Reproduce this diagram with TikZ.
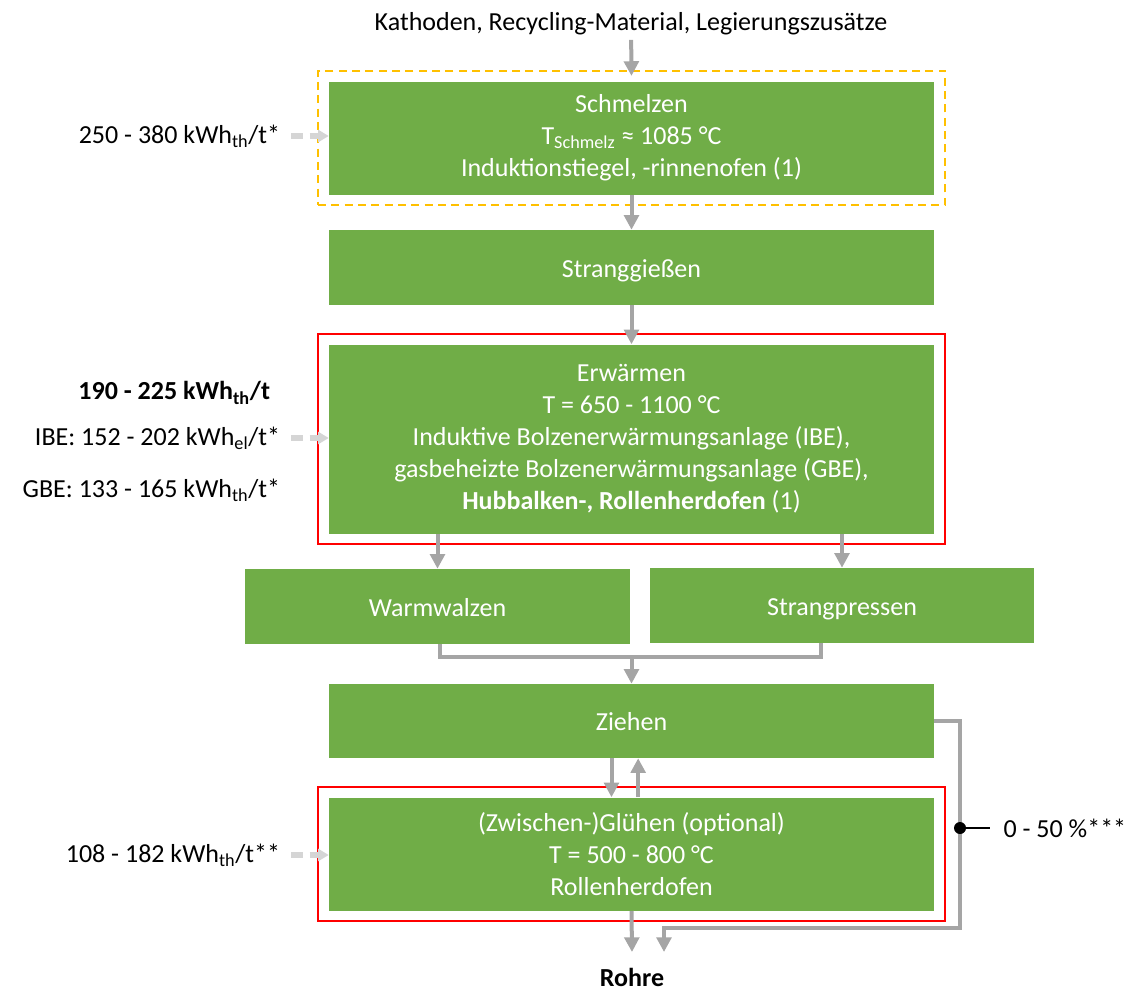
\documentclass[tikz,border=0pt]{standalone}
\usepackage{fontspec}
\setmainfont{Carlito}
\usepackage{xcolor}
\usepackage{tikz}
\usetikzlibrary{arrows.meta,positioning,fit}

\definecolor{procgreen}{HTML}{70AD47}
\definecolor{flowgray}{HTML}{A5A5A5}
\definecolor{feedgray}{HTML}{D5D5D5}
\definecolor{markorange}{HTML}{FFC000}

\begin{document}
\begin{tikzpicture}[
  x=0.75pt, y=-0.75pt,
  font=\fontsize{19.5}{24}\selectfont,
  block/.style={fill=procgreen, text=white, align=center, minimum width=453.75pt, inner sep=0pt},
  oneline/.style={text height=16pt, text depth=1.5pt},
  redframe/.style={draw=red, line width=1.5pt, inner sep=8pt},
  orangeframe/.style={draw=markorange, line width=1.5pt, dash pattern=on 6pt off 4pt, inner sep=8pt},
  energy/.style={anchor=east, align=right, inner xsep=8pt, inner ysep=2pt},
  arrow/.style={-{Triangle[length=11pt,width=11pt]}, draw=flowgray, line width=3pt},
  line/.style={draw=flowgray, line width=3pt},
  feed/.style={-{Triangle[length=8pt,width=9pt]}, draw=feedgray, line width=4pt, dash pattern=on 9pt off 5pt}
]
\useasboundingbox (0,0) rectangle (1133,992);

% process chain
\node[block, minimum height=84.75pt] (schmelzen) at (631.5,138)
  {Schmelzen\\T\textsubscript{Schmelz} ≈ 1085 °C\\Induktionstiegel, -rinnenofen (1)};
\node[block, oneline, minimum height=56.25pt] (strang) at (631.5,267.5) {Stranggießen};
\node[block, minimum height=141.75pt] (erw) at (631.5,439)
  {Erwärmen\\T = 650 - 1100 °C\\Induktive Bolzenerwärmungsanlage (IBE),\\gasbeheizte Bolzenerwärmungsanlage (GBE),\\\textbf{Hubbalken-, Rollenherdofen} (1)};
\node[block, oneline, minimum width=288.75pt, minimum height=56.25pt] (walz) at (437.5,606.5) {Warmwalzen};
\node[block, oneline, minimum width=288pt, minimum height=56.25pt] (press) at (842,605.5) {Strangpressen};
\node[block, oneline, minimum height=55.5pt] (ziehen) at (631.5,721) {Ziehen};
\node[block, minimum height=84.75pt] (gluehen) at (631.5,854)
  {(Zwischen-)Glühen (optional)\\T = 500 - 800 °C\\Rollenherdofen};

% frames
\node[orangeframe, fit=(schmelzen)] (schmelzfr) {};
\node[redframe, fit=(erw)] (erwfr) {};
\node[redframe, fit=(gluehen)] (gluehfr) {};

% input and output
\node (input) at (631,24) {Kathoden, Recycling-Material, Legierungszusätze};
\node[font=\fontsize{19.5}{24}\selectfont\bfseries] (rohre) at (632,977) {Rohre};

% energy demand
\node[energy] (eschmelz) at (291,136) {250 - 380 kWh\textsubscript{th}/t*};
\node[energy, font=\fontsize{19.5}{24}\selectfont\bfseries] (eerw) at (281,393) {190 - 225 kWh\textsubscript{th}/t};
\node[energy] (eibe) at (291,438) {IBE: 152 - 202 kWh\textsubscript{el}/t*};
\node[energy] (egbe) at (291,490) {GBE: 133 - 165 kWh\textsubscript{th}/t*};
\node[energy] (egluehen) at (291,855) {108 - 182 kWh\textsubscript{th}/t**};

\draw[feed] (eschmelz.east) -- (eschmelz.east -| schmelzen.west);
\draw[feed] (eibe.east) -- (eibe.east -| erw.west);
\draw[feed] (egluehen.east) -- (egluehen.east -| gluehen.west);

% material flow
\draw[arrow] (input) -- ([yshift=4pt]schmelzen.north);
\draw[arrow] (schmelzen) -- (strang);
\draw[arrow] (strang) -- (erw);
\draw[arrow] (erw.south -| walz) -- (walz);
\draw[arrow] (erw.south -| press) -- (press);
\coordinate (merge) at (631.5,657);
\draw[line] ([xshift=2pt]walz.south) |- (merge) -| ([xshift=-16pt]press.south);
\draw[arrow] (merge) -- (ziehen);
\draw[arrow] ([xshift=-15pt]ziehen.south) -- ([xshift=-15pt]gluehen.north);
\draw[arrow] ([xshift=5pt]gluehen.north) -- ([xshift=5pt]ziehen.south);
\coordinate (outend) at (632,952);
\draw[arrow] (gluehen.south) -- (outend);

% bypass
\coordinate (bycorner) at (960,928);
\coordinate (byend) at (664,952);
\draw[arrow] (ziehen.east) -| (bycorner) -| (byend);
\coordinate (bydot) at (960,828);
\node[anchor=west, inner xsep=10pt] (share) at (990,828) {0 - 50 \%***};
\draw[line width=1pt] (bydot) -- (share.west);
\fill (bydot) circle (4.5pt);
\end{tikzpicture}
\end{document}
